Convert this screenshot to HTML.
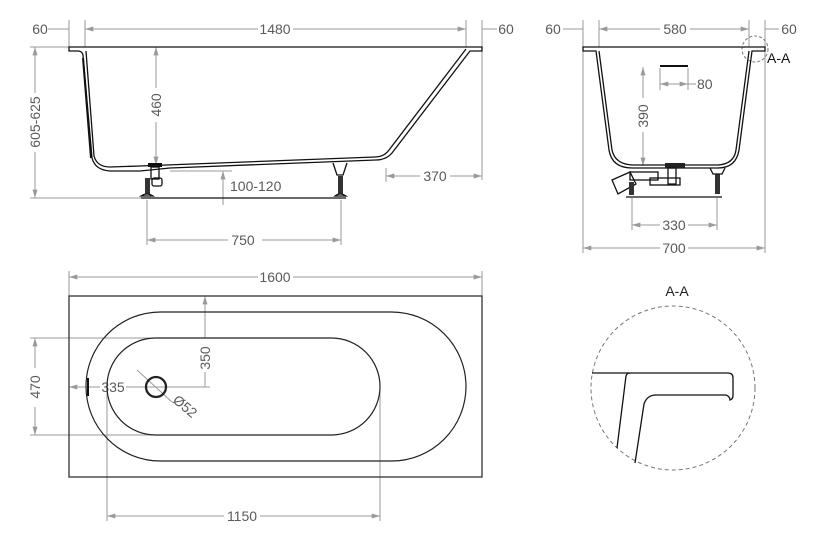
<!DOCTYPE html>
<html><head><meta charset="utf-8"><style>
html,body{margin:0;padding:0;background:#fff}
svg{display:block}
text{font-family:"Liberation Sans",sans-serif;font-size:14px;fill:#5a5a5a}
.d{stroke:#9a9a9a;stroke-width:1;fill:none}
.k{stroke:#111;stroke-width:1.3;fill:none}
.k2{stroke:#111;stroke-width:2;fill:none}
</style></head><body>
<svg width="818" height="542" viewBox="0 0 818 542" xmlns="http://www.w3.org/2000/svg">
<defs>
<marker id="a" viewBox="0 0 10 6" refX="10" refY="3" markerWidth="9" markerHeight="5" orient="auto-start-reverse"><path d="M0,0 L10,3 L0,6 z" fill="#9a9a9a"/></marker>
</defs>

<!-- ===== SIDE VIEW ===== -->
<g class="d">
<line x1="69" y1="20" x2="69" y2="47"/><line x1="85" y1="20" x2="85" y2="47"/>
<line x1="466" y1="20" x2="466" y2="47"/><line x1="482" y1="20" x2="482" y2="180"/>
<line x1="48" y1="29" x2="69" y2="29"/>
<line x1="85" y1="29" x2="258" y2="29" marker-start="url(#a)"/><line x1="293" y1="29" x2="466" y2="29" marker-end="url(#a)"/>
<line x1="482" y1="29" x2="497" y2="29"/>
<line x1="30" y1="47" x2="70" y2="47"/><line x1="30" y1="198" x2="145" y2="198"/>
<line x1="35" y1="47" x2="35" y2="93" marker-start="url(#a)"/><line x1="35" y1="152" x2="35" y2="198" marker-end="url(#a)"/>
<line x1="156" y1="47" x2="156" y2="88" marker-start="url(#a)"/><line x1="156" y1="122" x2="156" y2="165" marker-end="url(#a)"/>
<line x1="170" y1="171" x2="232" y2="171"/>
<line x1="223" y1="171" x2="223" y2="205" marker-start="url(#a)"/>
<line x1="386" y1="168" x2="386" y2="182"/>
<line x1="386" y1="176" x2="420" y2="176" marker-start="url(#a)"/><line x1="450" y1="176" x2="482" y2="176" marker-end="url(#a)"/>
<line x1="147" y1="200" x2="147" y2="245"/><line x1="341" y1="200" x2="341" y2="245"/>
<line x1="147" y1="240" x2="228" y2="240" marker-start="url(#a)"/><line x1="262" y1="240" x2="341" y2="240" marker-end="url(#a)"/>
</g>
<text x="40" y="34" text-anchor="middle">60</text>
<text x="275" y="34" text-anchor="middle">1480</text>
<text x="506" y="34" text-anchor="middle">60</text>
<text transform="translate(40,122) rotate(-90)" text-anchor="middle">605-625</text>
<text transform="translate(161,105) rotate(-90)" text-anchor="middle">460</text>
<text x="230" y="191">100-120</text>
<text x="435" y="181" text-anchor="middle">370</text>
<text x="243" y="245" text-anchor="middle">750</text>
<path class="k" d="M69,47 H482 V51 H470 L392,153 Q386,160 376,160 L170,168 Q150,170 140,171 L110,171 Q95,170 92,158 L83,55 Q82,51 78,51 H69 Z"/>
<path class="k" d="M86,51 L94,156 Q97,167 110,167 L140,166 L375,157 Q384,157 389,150 L466,49"/>
<path class="k2" d="M83,58 L91,158"/>
<rect x="148" y="163" width="14" height="4" fill="#111"/>
<rect x="151" y="167" width="8" height="12" class="k"/>
<rect x="152" y="178" width="10" height="8" rx="2" class="k"/>
<rect x="145" y="178" width="5" height="16" fill="#333"/>
<path class="k" d="M141,196 Q147,192 153,196 Z"/>
<path class="k" d="M333,163 L337,175 H343 L347,163"/>
<rect x="338" y="176" width="5" height="18" fill="#333"/>
<path class="k" d="M335,196 Q340,192 346,196 Z"/>
<line x1="141" y1="198" x2="346" y2="198" stroke="#111" stroke-width="1.2"/>

<!-- ===== FRONT VIEW ===== -->
<g class="d">
<line x1="583" y1="20" x2="583" y2="253"/><line x1="599" y1="20" x2="599" y2="47"/>
<line x1="749" y1="20" x2="749" y2="47"/><line x1="765" y1="20" x2="765" y2="253"/>
<line x1="563" y1="29" x2="583" y2="29"/>
<line x1="599" y1="29" x2="660" y2="29" marker-start="url(#a)"/><line x1="690" y1="29" x2="749" y2="29" marker-end="url(#a)"/>
<line x1="765" y1="29" x2="779" y2="29"/>
<line x1="660" y1="68" x2="660" y2="90"/><line x1="688" y1="68" x2="688" y2="90"/>
<line x1="660" y1="84" x2="688" y2="84" marker-start="url(#a)" marker-end="url(#a)"/><line x1="688" y1="84" x2="696" y2="84"/>
<line x1="643" y1="67" x2="643" y2="98" marker-start="url(#a)"/><line x1="643" y1="132" x2="643" y2="166" marker-end="url(#a)"/>
<line x1="632" y1="198" x2="632" y2="230"/><line x1="717" y1="198" x2="717" y2="230"/>
<line x1="632" y1="225" x2="660" y2="225" marker-start="url(#a)"/><line x1="688" y1="225" x2="717" y2="225" marker-end="url(#a)"/>
<line x1="583" y1="248" x2="660" y2="248" marker-start="url(#a)"/><line x1="688" y1="248" x2="765" y2="248" marker-end="url(#a)"/>
</g>
<text x="553" y="34" text-anchor="middle">60</text>
<text x="675" y="34" text-anchor="middle">580</text>
<text x="789" y="34" text-anchor="middle">60</text>
<text x="697" y="89">80</text>
<text transform="translate(648,116) rotate(-90)" text-anchor="middle">390</text>
<text x="674" y="230" text-anchor="middle">330</text>
<text x="674" y="253" text-anchor="middle">700</text>
<text x="767" y="63" style="fill:#111">A-A</text>
<circle cx="755" cy="49" r="13" fill="none" stroke="#777" stroke-dasharray="3,2"/>
<path class="k" d="M583,47 H765 V51 H752 L739,150 Q736,168 718,168 L632,168 Q612,168 609,150 L596,51 H583 Z"/>
<path class="k" d="M599,51 L612,150 Q615,164 632,165 L718,165 Q734,164 736,150 L749,51"/>
<line x1="660" y1="66" x2="688" y2="66" stroke="#111" stroke-width="2"/>
<rect x="665" y="163" width="20" height="5" fill="#222"/>
<rect x="630" y="172" width="28" height="8" class="k"/>
<path class="k" d="M612,180 L630,172 L636,184 L618,194 Z"/>
<rect x="650" y="178" width="30" height="7" class="k"/>
<rect x="668" y="168" width="8" height="16" class="k"/>
<rect x="629" y="182" width="5" height="13" fill="#333"/>
<rect x="715" y="174" width="5" height="20" fill="#333"/>
<path class="k" d="M710,168 L713,174 H722 L725,168"/>
<line x1="626" y1="197" x2="722" y2="197" stroke="#111" stroke-width="1.2"/>

<!-- ===== TOP VIEW ===== -->
<g class="d">
<line x1="69" y1="271" x2="69" y2="296"/><line x1="482" y1="271" x2="482" y2="296"/>
<line x1="69" y1="277" x2="258" y2="277" marker-start="url(#a)"/><line x1="293" y1="277" x2="482" y2="277" marker-end="url(#a)"/>
<line x1="30" y1="338" x2="150" y2="338"/><line x1="30" y1="435" x2="160" y2="435"/>
<line x1="35" y1="338" x2="35" y2="368" marker-start="url(#a)"/><line x1="35" y1="407" x2="35" y2="435" marker-end="url(#a)"/>
<line x1="205" y1="296" x2="205" y2="338" marker-start="url(#a)"/><line x1="205" y1="372" x2="205" y2="387"/>
<line x1="69" y1="387" x2="100" y2="387" marker-start="url(#a)"/><line x1="126" y1="387" x2="210" y2="387"/>
<line x1="137" y1="370" x2="172" y2="402"/>
<line x1="107" y1="387" x2="107" y2="521"/><line x1="380" y1="387" x2="380" y2="521"/>
<line x1="107" y1="516" x2="224" y2="516" marker-start="url(#a)"/><line x1="260" y1="516" x2="380" y2="516" marker-end="url(#a)"/>
</g>
<text x="275" y="282" text-anchor="middle">1600</text>
<text transform="translate(40,387) rotate(-90)" text-anchor="middle">470</text>
<text transform="translate(210,358) rotate(-90)" text-anchor="middle">350</text>
<text x="113" y="392" text-anchor="middle">335</text>
<text transform="translate(182,410) rotate(40)" text-anchor="middle">Ø52</text>
<text x="242" y="521" text-anchor="middle">1150</text>
<rect x="69" y="296" width="413" height="181" fill="none" stroke="#333" stroke-width="1.3"/>
<rect x="86" y="312" width="380" height="149" rx="74.5" ry="74.5" fill="none" stroke="#222" stroke-width="1.2"/>
<rect x="107" y="338" width="273" height="97" rx="48.5" ry="48.5" fill="none" stroke="#222" stroke-width="1.2"/>
<circle cx="156" cy="387" r="10" fill="none" stroke="#222" stroke-width="2.3"/>
<line x1="88" y1="378" x2="88" y2="396" stroke="#111" stroke-width="2"/>

<!-- ===== A-A DETAIL ===== -->
<text x="677" y="296" text-anchor="middle" style="fill:#222">A-A</text>
<circle cx="673" cy="388" r="82" fill="none" stroke="#777" stroke-dasharray="4,3"/>
<path class="k" d="M592,373 H728 Q733,373 733,378 V395 Q733,400 729,400"/>
<path class="k" d="M617,448 L626,376 Q627,373 630,373"/>
<path class="k" d="M635,463 L644,404 Q647,395 656,395 H726 Q729,396 730,399"/>
</svg>
</body></html>
